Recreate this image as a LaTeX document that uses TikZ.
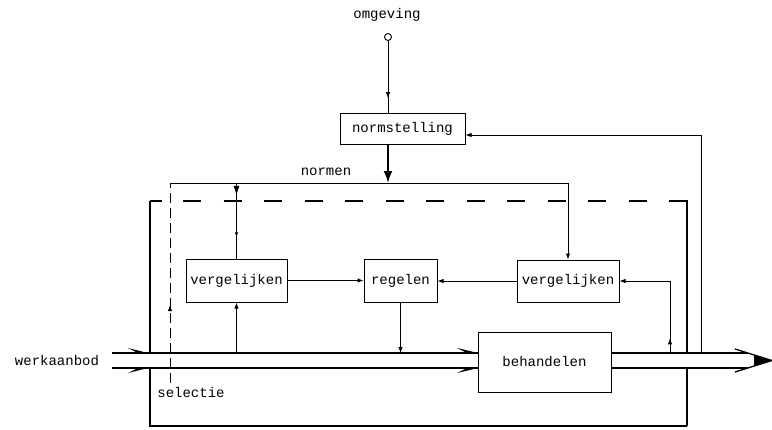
\documentclass[tikz,border=0pt]{standalone}
\usepackage{fontspec}
\newfontfamily\tw{Liberation Mono}
\usetikzlibrary{arrows.meta,decorations.markings}
\begin{document}
\begin{tikzpicture}[x=1pt,y=-1pt,
  font=\tw\fontsize{14}{16}\selectfont,
  ln/.style={line width=0.9pt},
  flowline/.style={line width=1.3pt},
  boxnode/.style={draw,line width=1pt,inner sep=0pt,rectangle,fill=white},
  tip/.style={-{Latex[length=6pt,width=4.5pt]}},
  midtip/.style={postaction={decorate},decoration={markings,mark=at position #1 with {\arrow{Latex[length=6pt,width=4.5pt]}}}},
  barb/.style={fill=black}
]
\useasboundingbox (0,0) rectangle (772,429);

% coordinates
\coordinate (nL) at (170,183);
\coordinate (nA) at (388,183);
\coordinate (selB) at (170,383);
\coordinate (inT) at (112,353);
\coordinate (inB) at (112,368);
\coordinate (outT) at (748,353);
\coordinate (outB) at (748,368);
\coordinate (tipP) at (772,360.5);
\coordinate (fR) at (670,353);
\coordinate (fN) at (701,353);
\coordinate (lA) at (162,201);
\coordinate (lB) at (150,201);
\coordinate (lC) at (150,426);
\coordinate (lD) at (687,426);
\coordinate (lE) at (687,201);
\coordinate (lF) at (669,201);
\coordinate (dS) at (183,201);

% outer feedback loop
\draw[line width=2.5pt] (lA) -- (lB);
\draw[line width=1.3pt] (lB) -- (lC) -- (lD);
\draw[line width=2.5pt] (lD) -- (lE) -- (lF);
\draw[line width=2.5pt,dash pattern=on 18pt off 22.5pt] (dS) -- (lF);

% flow band gap
\fill[white] (inT) rectangle (outB);

% texts
\node (omg) at (387,15) {omgeving};
\node (normen) at (326,172) {normen};
\node (werk) at (57,361) {werkaanbod};
\node (sel) at (191,392) {selectie};

% boxes
\node[circle,draw,ln,minimum size=7pt,inner sep=0pt] (src) at (388,37) {};
\node[boxnode,minimum width=125pt,minimum height=31pt] (norm) at (402.5,128.5) {normstelling};
\node[boxnode,minimum width=101pt,minimum height=43pt] (vl) at (236.5,280.5) {vergelijken};
\node[boxnode,minimum width=73pt,minimum height=43pt] (reg) at (400.5,280.5) {regelen};
\node[boxnode,minimum width=102pt,minimum height=42pt] (vr) at (568,281) {vergelijken};
\node[boxnode,minimum width=133pt,minimum height=60pt] (beh) at (544.5,362) {behandelen};

\coordinate (nV) at (vl.north |- nL);
\coordinate (nR) at (vr.north |- nL);
\coordinate (fL) at (vl.south |- inT);

% flow
\draw[flowline] (inT) -- (beh.west |- inT);
\draw[flowline] (inB) -- (beh.west |- inB);
\draw[flowline] (beh.east |- inT) -- (outT);
\draw[flowline] (beh.east |- inB) -- (outB);
\fill[barb] (128,348) -- (148,353) -- (138,353) -- cycle;
\fill[barb] (128,373) -- (148,368) -- (138,368) -- cycle;
\fill[barb] (457,348) -- (478,353) -- (467,353) -- cycle;
\fill[barb] (457,373) -- (478,368) -- (467,368) -- cycle;
\draw[flowline] (735,349) -- (tipP) -- (735,372);
\fill (754,355) -- (tipP) -- (754,366) -- cycle;

% omgeving -> normstelling
\draw[ln,midtip=0.8] (src) -- (src |- norm.north);
% normstelling -> normen
\draw[line width=2pt,-{Latex[length=12pt,width=9pt]}] (norm.south -| nA) -- (nA);
% normen line
\draw[ln] (nL) -- (nR);
\draw[ln,tip] (nR) -- (vr.north);
\draw[ln,postaction={decorate},decoration={markings,
  mark=at position 0.17 with {\arrow{Latex[length=10pt,width=6pt]}},
  mark=at position 0.72 with {\arrow{Latex[length=5pt,width=3.5pt]}}}] (nV) -- (vl.north);
% selectie
\draw[ln,dash pattern=on 10pt off 5pt,midtip=0.39] (selB) -- (nL);

% middle row
\draw[ln,tip] (vl.east) -- (reg.west);
\draw[ln,tip] (vr.west) -- (reg.east |- vr.west);
\draw[ln,tip] (fL) -- (vl.south);
\draw[ln,tip] (reg.south) -- (reg.south |- inT);
\draw[ln,tip,midtip=0.12] (fR) |- (vr.east);
\draw[ln,tip] (fN) |- ([yshift=-6.5pt]norm.east);
\end{tikzpicture}
\end{document}
